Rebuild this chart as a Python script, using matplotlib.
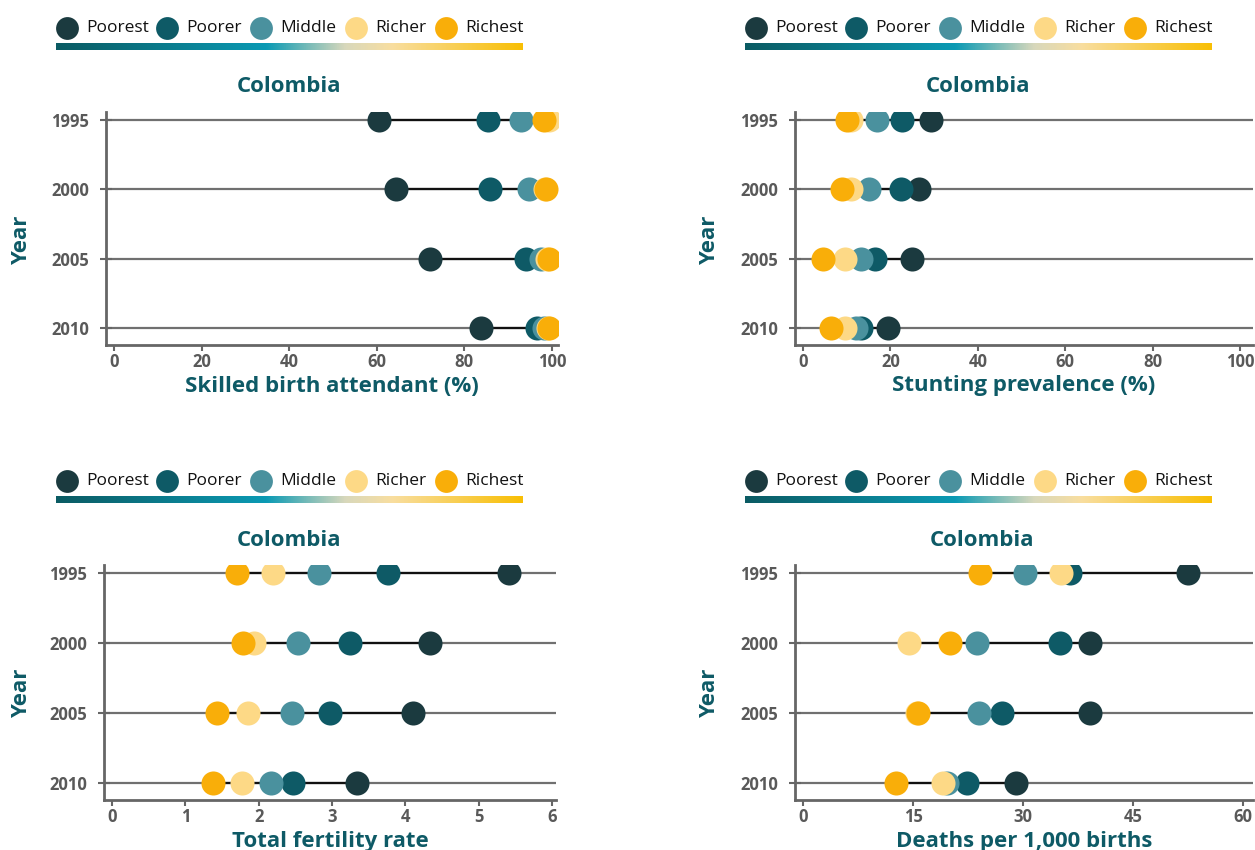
#!/usr/bin/env python3
"""
Colombia equity dumbbell charts (by wealth quintile)
"""
import numpy as np
import matplotlib
matplotlib.use("Agg")
import matplotlib.pyplot as plt
from matplotlib.colors import LinearSegmentedColormap

years = ['1995', '2000', '2005', '2010']
groups = ['Poorest', 'Poorer', 'Middle', 'Richer', 'Richest']
colors = ['#1b3a3f', '#0e5a66', '#4a919e', '#fdd986', '#f9ae09']

# skilled birth attendant (%)
sba_poorest = [60.6, 64.3, 72.1, 83.8]
sba_poorer = [85.4, 85.8, 94.2, 96.7]
sba_middle = [92.9, 94.8, 97.5, 98.2]
sba_richer = [99.3, 98.5, 99.0, 99.2]
sba_richest = [98.3, 98.7, 99.4, 99.4]

# stunting prevalence (%)
stunt_poorest = [29.4, 26.5, 25.0, 19.4]
stunt_poorer = [22.7, 22.5, 16.5, 13.2]
stunt_middle = [17.0, 15.2, 13.2, 12.2]
stunt_richer = [11.0, 10.9, 9.7, 9.7]
stunt_richest = [10.1, 8.9, 4.5, 6.5]

# total fertility rate
tfr_poorest = [5.42, 4.33, 4.10, 3.34]
tfr_poorer = [3.76, 3.24, 2.97, 2.47]
tfr_middle = [2.82, 2.54, 2.46, 2.17]
tfr_richer = [2.20, 1.93, 1.85, 1.77]
tfr_richest = [1.71, 1.78, 1.43, 1.38]

# deaths per 1,000 births
mort_poorest = [52.5, 39.2, 39.1, 29.1]
mort_poorer = [36.4, 35.0, 27.1, 22.4]
mort_middle = [30.3, 23.7, 24.0, 19.6]
mort_richer = [35.2, 14.4, 15.5, 19.1]
mort_richest = [24.2, 20.0, 15.7, 12.7]

W, H = 1255, 850
TEAL = '#0e5a66'
GREY = '#595959'
FONT = 'Open Sans'

fig = plt.figure(figsize=(W / 100, H / 100), dpi=100)


def px_axes(l, t, r, b):
    return fig.add_axes([l / W, 1 - b / H, (r - l) / W, (b - t) / H])


def draw_legend(dx, dy):
    lax = px_axes(0, 0, W, H)
    lax.set_xlim(0, W)
    lax.set_ylim(H, 0)
    lax.axis('off')
    lax.patch.set_alpha(0)
    mx = [67, 167, 261, 356, 446]
    for x, name, c in zip(mx, groups, colors):
        lax.scatter(x + dx, 27.5 + dy, s=270, color=c, linewidths=0)
        lax.text(x + dx + 19, 28 + dy, name, fontsize=12.5, family='Open Sans',
                 va='center', ha='left', color='#111111')
    cmap = LinearSegmentedColormap.from_list(
        'bar', [(0, '#0b5b63'), (0.45, '#0a9ab4'), (0.62, '#d8d8bc'),
                (0.72, '#f8deA0'), (1, '#f9bf05')])
    grad = np.linspace(0, 1, 256).reshape(1, -1)
    lax.imshow(grad, cmap=cmap, aspect='auto',
               extent=(56 + dx, 523 + dx, 49.5 + dy, 42.5 + dy))


def draw_panel(box, series, xlim, xticks, xlabel, title_x, ylab_x):
    l, t, r, b = box
    ax = px_axes(l, t, r, b)
    ypos = np.arange(len(years))
    for y in ypos:
        ax.axhline(y, color='#707070', lw=1.6, zorder=1)
    arr = np.array(series)
    lo, hi = arr.min(axis=0), arr.max(axis=0)
    ax.hlines(ypos, lo, hi, color='#111111', lw=1.6, zorder=2)
    for vals, c in zip(series, colors):
        ax.scatter(vals, ypos, s=300, color=c, linewidths=0, zorder=3)
    ax.set_xlim(*xlim)
    ax.set_ylim(3.24, -0.11)
    ax.set_yticks(ypos)
    ax.set_yticklabels(years)
    ax.set_xticks(xticks)
    for s in ['top', 'right']:
        ax.spines[s].set_visible(False)
    for s in ['left', 'bottom']:
        ax.spines[s].set_color('#666666')
        ax.spines[s].set_linewidth(2)
    ax.tick_params(axis='both', colors='#666666', width=1.5, length=4,
                   labelcolor=GREY, labelsize=12, pad=2)
    ax.tick_params(axis='y', direction='inout', length=8, pad=8)
    for lab in ax.get_xticklabels() + ax.get_yticklabels():
        lab.set_fontweight('bold')
        lab.set_family(FONT)
    ax.set_xlabel(xlabel, fontsize=16, fontweight='bold', color=TEAL,
                  family=FONT, labelpad=3)
    fig.text(title_x / W, 1 - (t - 25) / H, 'Colombia', fontsize=16,
             fontweight='bold', color=TEAL, family=FONT, ha='center', va='center')
    fig.text(ylab_x / W, 1 - (t + 128) / H, 'Year', fontsize=16,
             fontweight='bold', color=TEAL, family=FONT, ha='center',
             va='center', rotation=90)
    return ax


draw_legend(0, 0)
draw_legend(689, 0)
draw_legend(0, 453)
draw_legend(689, 453)

draw_panel((106, 112, 558, 345),
           [sba_poorest, sba_poorer, sba_middle, sba_richer, sba_richest],
           (-1.83, 101.4), [0, 20, 40, 60, 80, 100],
           'Skilled birth attendant (%)', 289, 22)
draw_panel((795, 112, 1253, 345),
           [stunt_poorest, stunt_poorer, stunt_middle, stunt_richer, stunt_richest],
           (-1.83, 103.0), [0, 20, 40, 60, 80, 100],
           'Stunting prevalence (%)', 978, 710)
draw_panel((104, 565, 556, 800),
           [tfr_poorest, tfr_poorer, tfr_middle, tfr_richer, tfr_richest],
           (-0.109, 6.055), [0, 1, 2, 3, 4, 5, 6],
           'Total fertility rate', 289, 22)
draw_panel((795, 565, 1253, 800),
           [mort_poorest, mort_poorer, mort_middle, mort_richer, mort_richest],
           (-1.09, 61.36), [0, 15, 30, 45, 60],
           'Deaths per 1,000 births', 982, 710)

fig.savefig('out.png', dpi=100)
